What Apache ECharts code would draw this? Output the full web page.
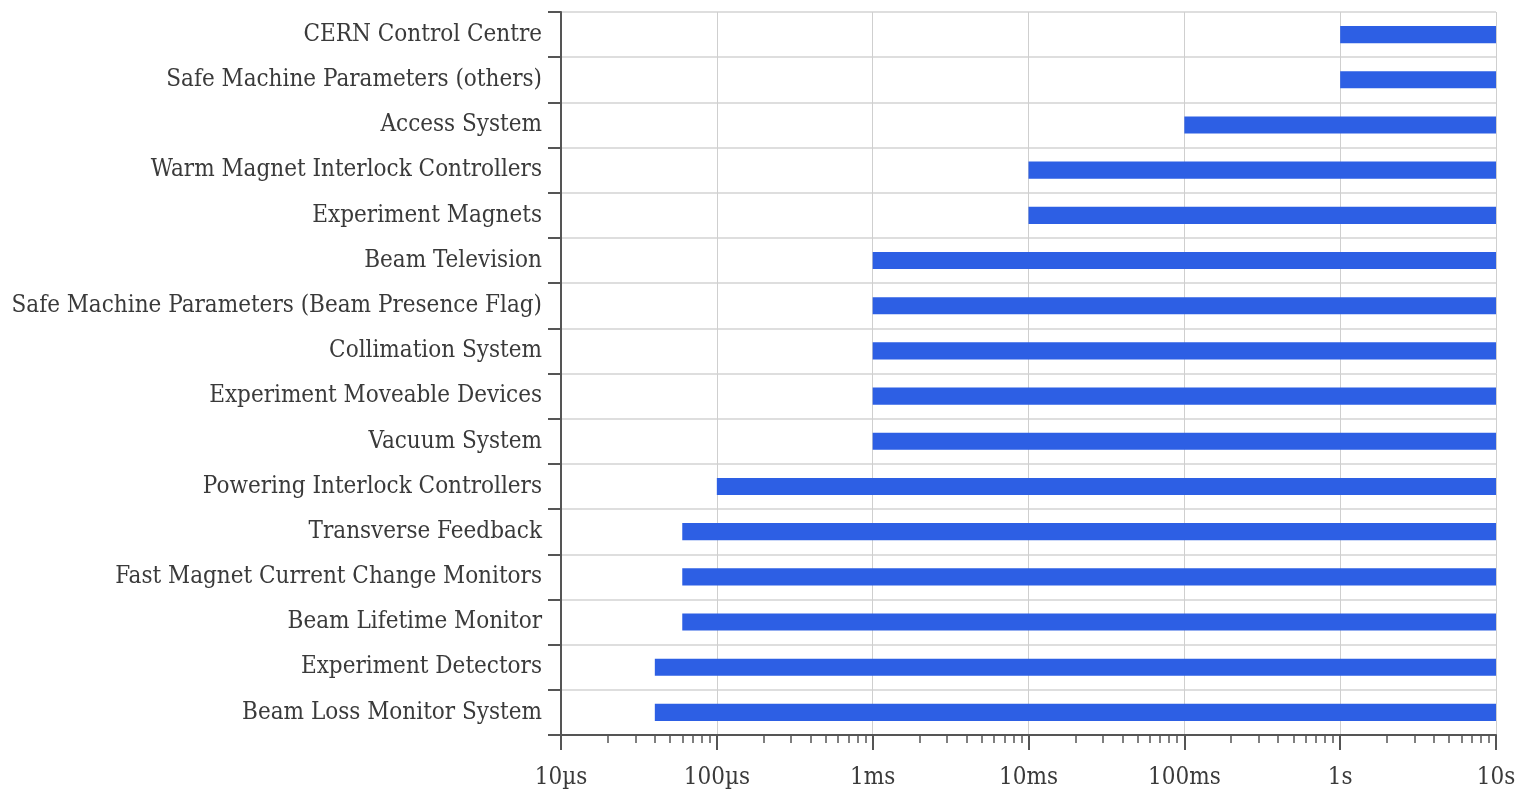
<!DOCTYPE html>
<html>
<head>
<meta charset="utf-8">
<script src="https://cdn.jsdelivr.net/npm/echarts@6/dist/echarts.min.js"></script>
<style>
  html, body { margin: 0; padding: 0; background: #fff; }
  #chart { width: 1517px; height: 794px; }
</style>
</head>
<body>
<div id="chart"></div>
<script>
// Systems, top to bottom
const systems = [
  'CERN Control Centre',
  'Safe Machine Parameters (others)',
  'Access System',
  'Warm Magnet Interlock Controllers',
  'Experiment Magnets',
  'Beam Television',
  'Safe Machine Parameters (Beam Presence Flag)',
  'Collimation System',
  'Experiment Moveable Devices',
  'Vacuum System',
  'Powering Interlock Controllers',
  'Transverse Feedback',
  'Fast Magnet Current Change Monitors',
  'Beam Lifetime Monitor',
  'Experiment Detectors',
  'Beam Loss Monitor System'
];

// Fastest reaction time of each system, in seconds
const startTimes = [
  1, 1, 0.1, 0.01, 0.01,
  0.001, 0.001, 0.001, 0.001, 0.001,
  1e-4, 6e-5, 6e-5, 6e-5, 4e-5, 4e-5
];

// Every range runs up to 10 s
const endTimes = [
  10, 10, 10, 10, 10, 10, 10, 10, 10, 10, 10, 10, 10, 10, 10, 10
];

// Decade tick labels, 10 µs … 10 s
const tickLabels = ['10\u00b5s', '100\u00b5s', '1ms', '10ms', '100ms', '1s', '10s'];
const axisMin = 1e-5;
const axisMax = 10;

// Minor ticks at 2..9 within each decade
const minorTicks = [];
for (let e = -5; e < 1; e++) {
  for (let m = 2; m <= 9; m++) minorTicks.push(m * Math.pow(10, e));
}

const barData = systems.map((s, i) => [startTimes[i], i, endTimes[i]]);

const labelFont = '"DejaVu Serif Condensed", "DejaVu Serif", "Liberation Serif", serif';
const chart = echarts.init(document.getElementById('chart'));

chart.setOption({
  animation: false,
  grid: {
    left: 561, right: 21, top: 12, bottom: 59,
    containLabel: false,
    outerBoundsMode: 'none'
  },
  xAxis: [
    {
      type: 'log',
      logBase: 10,
      min: axisMin,
      max: axisMax,
      axisLine: { show: true, onZero: false, lineStyle: { color: '#555', width: 2 } },
      axisTick: { show: true, inside: false, length: 15, lineStyle: { color: '#555', width: 2 } },
      minorTick: { show: false },
      splitLine: { show: true, lineStyle: { color: '#cfcfcf', width: 1 } },
      axisLabel: {
        margin: 31,
        color: '#3a3a3a',
        fontFamily: labelFont,
        fontSize: 24,
        formatter: v => tickLabels[Math.round(Math.log10(v / axisMin))] || ''
      }
    },
    {
      type: 'log',
      logBase: 10,
      min: axisMin,
      max: axisMax,
      position: 'bottom',
      axisLine: { show: false },
      axisTick: {
        show: true,
        length: 8,
        customValues: minorTicks,
        lineStyle: { color: '#555', width: 1.5 }
      },
      axisLabel: { show: false },
      splitLine: { show: false }
    }
  ],
  yAxis: {
    type: 'category',
    data: systems,
    inverse: true,
    axisLine: { show: true, lineStyle: { color: '#555', width: 2 } },
    axisTick: { show: true, length: 13, lineStyle: { color: '#555', width: 2 } },
    splitLine: { show: true, lineStyle: { color: '#dedede', width: 2 } },
    axisLabel: {
      margin: 19,
      color: '#3a3a3a',
      fontFamily: labelFont,
      fontSize: 24
    }
  },
  series: [
    {
      type: 'custom',
      xAxisIndex: 0,
      encode: { x: [0, 2], y: 1 },
      data: barData,
      renderItem: function (params, api) {
        const p0 = api.coord([api.value(0), api.value(1)]);
        const p1 = api.coord([api.value(2), api.value(1)]);
        let band = api.size([0, 1])[1];
        if (!isFinite(band)) band = 45;
        const h = band * 0.38;
        return {
          type: 'rect',
          shape: { x: p0[0], y: p0[1] - h / 2, width: p1[0] - p0[0], height: h },
          style: { fill: '#2d5fe4' }
        };
      }
    }
  ]
});
</script>
</body>
</html>
